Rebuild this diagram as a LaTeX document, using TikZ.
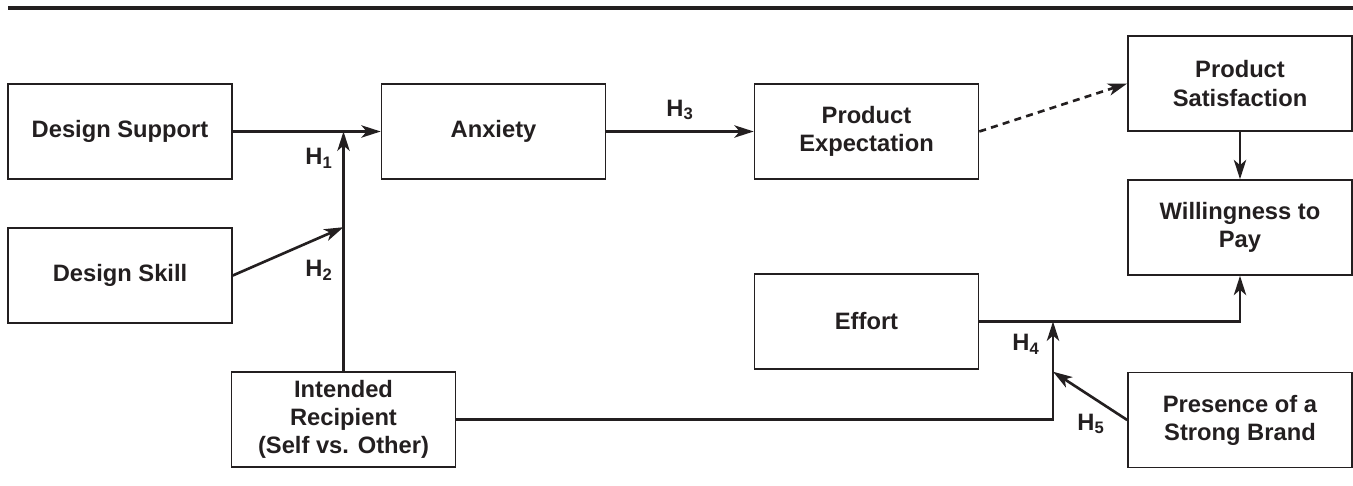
\documentclass[tikz,border=0pt]{standalone}
\usepackage{fontspec}
\setmainfont{Liberation Sans}
\usetikzlibrary{arrows.meta}
\definecolor{ink}{HTML}{231F20}

\begin{document}
\begin{tikzpicture}[x=0.2mm, y=-0.2mm,
    box/.style={draw=ink, line width=0.9pt, minimum width=44.8mm, minimum height=19mm,
        align=center, text=ink, inner sep=2pt, font=\fontsize{13.5}{16}\selectfont\bfseries},
    arr/.style={draw=ink, line width=1.5pt, -{Stealth[length=11pt, width=7pt, inset=3pt]}},
    hyp/.style={text=ink, inner sep=0pt, font=\fontsize{13.5}{16}\selectfont\bfseries}]
    \useasboundingbox (0,0) rectangle (1353,486);
    % rule on top
    \draw[ink, line width=2pt] (8,8) -- (1353,8);

    % Boxes
    \node[box] (support) at (120,131.5) {Design Support};
    \node[box] (skill) at (120,275.5) {Design Skill};
    \node[box] (anxiety) at (493.5,131.5) {Anxiety};
    \node[box] (expect) at (866.5,131.5) {Product\\Expectation};
    \node[box] (satisf) at (1240,83.5) {Product\\Satisfaction};
    \node[box] (wtp) at (1240,227.5) {Willingness to\\Pay};
    \node[box] (effort) at (866.5,321.5) {Effort};
    \node[box] (recip) at (343.5,419.5) {Intended\\Recipient\\(Self vs. Other)};
    \node[box] (brand) at (1240,420) {Presence of a\\Strong Brand};

    % Junctions
    \coordinate (j1) at (recip.north |- support.east);
    \coordinate (j2) at (recip.north |- skill.north);
    \coordinate (j4) at (1053,321.5);
    \coordinate (j5) at (j4 |- brand.north);

    % Arrows
    \draw[arr] (support.east) -- (anxiety.west);
    \draw[arr] (recip.north) -- (j1);
    \draw[arr] (skill.east) -- (j2);
    \draw[arr] (anxiety.east) -- (expect.west);
    \draw[arr, dash pattern=on 4pt off 3pt] (expect.east) -- (satisf.west);
    \draw[arr] (satisf.south) -- (wtp.north);
    \draw[arr] (effort.east) -| (wtp.south);
    \draw[arr] (recip.east) -| (j4);
    \draw[arr] (brand.west) -- (j5);

    % Hypotheses
    \node[hyp] (h1) at (319,158) {H\textsubscript{1}};
    \node[hyp] (h2) at (319,270) {H\textsubscript{2}};
    \node[hyp] (h3) at (680,110) {H\textsubscript{3}};
    \node[hyp] (h4) at (1026,344) {H\textsubscript{4}};
    \node[hyp] (h5) at (1091,424) {H\textsubscript{5}};
\end{tikzpicture}
\end{document}
